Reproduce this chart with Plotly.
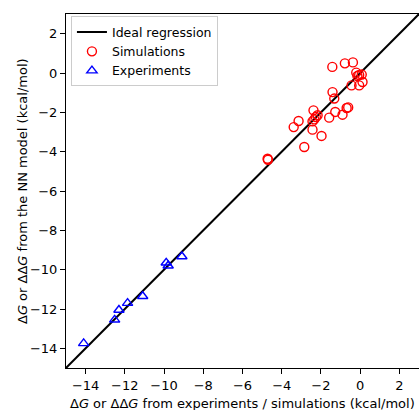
import plotly.graph_objects as go

axis_range = [-15, 3]
tick_vals = [-14, -12, -10, -8, -6, -4, -2, 0, 2]

sim_x = [-4.72, -4.70, -3.39, -3.14, -2.85, -2.43, -2.43, -2.38, -2.34, -2.26, -2.17,
         -1.97, -1.58, -1.42, -1.41, -1.32, -1.27, -0.90, -0.78, -0.69, -0.61, -0.44,
         -0.37, -0.20, -0.14, -0.05, -0.05, 0.08, 0.12]
sim_y = [-4.36, -4.41, -2.75, -2.44, -3.76, -2.88, -2.46, -1.90, -2.36, -2.24, -2.15,
         -3.20, -2.27, 0.31, -0.97, -1.30, -1.98, -2.12, 0.49, -1.78, -1.75, -0.63,
         0.54, 0.02, -0.15, -0.10, -0.63, -0.08, -0.46]

exp_x = [-14.10, -12.52, -12.30, -11.86, -11.09, -9.89, -9.79, -9.09]
exp_y = [-13.75, -12.55, -12.05, -11.70, -11.35, -9.65, -9.80, -9.33]

font = "DejaVu Sans"
fs = 13

fig = go.Figure()
fig.add_trace(go.Scatter(x=axis_range, y=axis_range, mode="lines",
                         line=dict(color="black", width=2), name="Ideal regression"))
fig.add_trace(go.Scatter(x=sim_x, y=sim_y, mode="markers", name="Simulations",
                         marker=dict(symbol="circle-open", size=9, color="red",
                                     line=dict(width=1.4, color="red"))))
fig.add_trace(go.Scatter(x=exp_x, y=exp_y, mode="markers", name="Experiments",
                         marker=dict(symbol="triangle-up-open", size=9, color="blue",
                                     line=dict(width=1.4, color="blue"))))

axis_common = dict(range=axis_range, tickvals=tick_vals, ticks="outside", ticklen=5,
                   tickwidth=1.1, tickcolor="black", showline=True, linecolor="black",
                   linewidth=1.1, mirror=True, showgrid=False, zeroline=False,
                   automargin=False,
                   tickfont=dict(family=font, size=fs, color="black"))

fig.update_layout(
    width=419, height=410,
    margin=dict(l=66, r=0, t=14, b=42),
    paper_bgcolor="white", plot_bgcolor="white",
    font=dict(family=font, size=fs, color="black"),
    xaxis=dict(**axis_common),
    yaxis=dict(**axis_common),
    legend=dict(x=0.014, y=0.993, xanchor="left", yanchor="top",
                bgcolor="rgba(255,255,255,0.8)", bordercolor="#cccccc", borderwidth=1,
                font=dict(family=font, size=12.5), tracegroupgap=0, itemwidth=30),
    showlegend=True,
    annotations=[
        dict(text="Δ<i>G</i> or ΔΔ<i>G</i> from experiments / simulations (kcal/mol)",
             xref="paper", yref="paper", x=0.5, y=0, yshift=-35,
             xanchor="center", yanchor="middle", showarrow=False,
             font=dict(family=font, size=fs, color="black")),
        dict(text="Δ<i>G</i> or ΔΔ<i>G</i> from the NN model (kcal/mol)",
             xref="paper", yref="paper", x=0, y=0.5, xshift=-44, textangle=-90,
             xanchor="center", yanchor="middle", showarrow=False,
             font=dict(family=font, size=fs, color="black")),
    ],
)

fig.write_html("out.html", config={"displayModeBar": False},
               post_script="document.body.style.margin='0';document.body.style.overflow='hidden';")
